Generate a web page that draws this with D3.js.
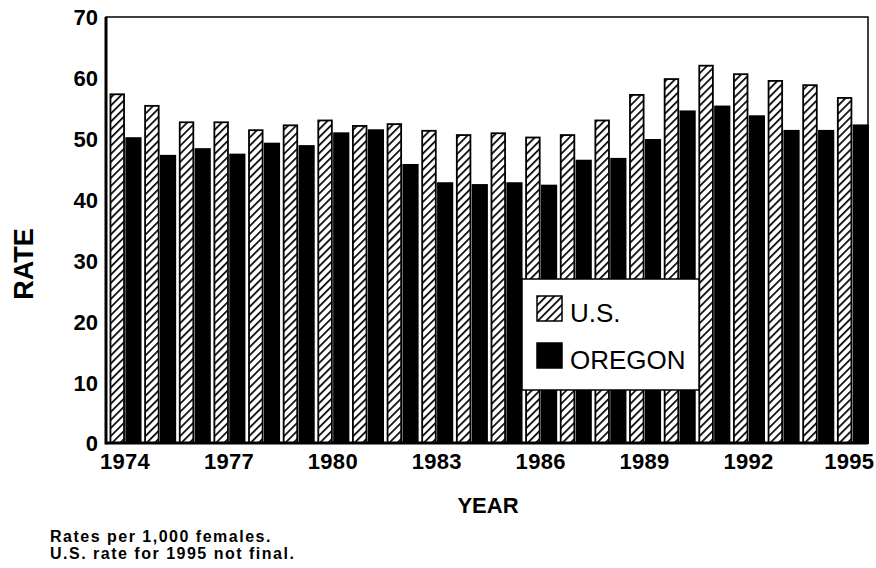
<!DOCTYPE html>
<html>
<head>
<meta charset="utf-8">
<script src="https://cdn.jsdelivr.net/npm/d3@7"></script>
<style>
  body { margin: 0; background: #fff; }
  text { font-family: "Liberation Sans", Arial, sans-serif; fill: #000; }
</style>
</head>
<body>
<div id="chart"></div>
<script>
var years = [1974,1975,1976,1977,1978,1979,1980,1981,1982,1983,1984,1985,1986,1987,1988,1989,1990,1991,1992,1993,1994,1995];
var usRate = [57.3,55.4,52.7,52.7,51.4,52.2,53.0,52.1,52.4,51.3,50.6,50.9,50.2,50.6,53.0,57.2,59.8,62.0,60.6,59.5,58.8,56.7];
var oregonRate = [50.1,47.2,48.3,47.4,49.2,48.8,50.9,51.4,45.7,42.7,42.4,42.7,42.3,46.4,46.7,49.8,54.5,55.3,53.7,51.3,51.3,52.2];
var yTicks = [0,10,20,30,40,50,60,70];
var xTickYears = [1974,1977,1980,1983,1986,1989,1992,1995];
var seriesNames = ["U.S.", "OREGON"];
var notes = ["Rates per 1,000 females.", "U.S. rate for 1995 not final."];

var margin = {top: 17, right: 8, bottom: 125, left: 106},
    width = 876 - margin.left - margin.right,
    height = 568 - margin.top - margin.bottom;

var svg = d3.select("#chart").append("svg")
    .attr("width", 876)
    .attr("height", 568);

var defs = svg.append("defs");
var pat = defs.append("pattern")
    .attr("id", "hatch")
    .attr("patternUnits", "userSpaceOnUse")
    .attr("width", 5.7)
    .attr("height", 5.7)
    .attr("patternTransform", "rotate(45)");
pat.append("rect").attr("width", 5.7).attr("height", 5.7).attr("fill", "white");
pat.append("line")
    .attr("x1", 0).attr("y1", 0).attr("x2", 0).attr("y2", 5.7)
    .attr("stroke", "black").attr("stroke-width", 3.4);

var g = svg.append("g")
    .attr("transform", "translate(" + margin.left + "," + margin.top + ")");

var x0 = d3.scaleBand().domain(years).range([0, width])
    .paddingInner(0.1).paddingOuter(0.05).align(1);
var x1 = d3.scaleBand().domain([0, 1]).range([0, x0.bandwidth()]);
var y = d3.scaleLinear().domain([0, 70]).range([height, 0]);

var data = years.map(function(yr, i) {
  return {year: yr, values: [usRate[i], oregonRate[i]]};
});

var groups = g.selectAll(".grp")
    .data(data)
    .enter().append("g")
    .attr("transform", function(d) { return "translate(" + x0(d.year) + ",0)"; });

groups.selectAll("rect")
    .data(function(d) { return d.values.map(function(v, k) { return {k: k, v: v}; }); })
    .enter().append("rect")
    .attr("x", function(d) { return x1(d.k) + (d.k == 0 ? 1 : 1.2); })
    .attr("y", function(d) { return y(d.v); })
    .attr("width", function(d) { return x1.bandwidth() - (d.k == 0 ? 2 : 1.2); })
    .attr("height", function(d) { return height - y(d.v); })
    .attr("fill", function(d) { return d.k == 0 ? "url(#hatch)" : "black"; })
    .attr("stroke", "black")
    .attr("stroke-width", 1.8);

// frame
g.append("rect")
    .attr("x", 0).attr("y", 0)
    .attr("width", width).attr("height", height)
    .attr("fill", "none")
    .attr("stroke", "black")
    .attr("stroke-width", 1.5);
g.append("line")
    .attr("x1", 0).attr("x2", 0).attr("y1", 0).attr("y2", height + 1.5)
    .attr("stroke", "black").attr("stroke-width", 3);
g.append("line")
    .attr("x1", 0).attr("x2", width).attr("y1", height).attr("y2", height)
    .attr("stroke", "black").attr("stroke-width", 3);

// y axis labels
var yAxis = d3.axisLeft(y).tickValues(yTicks).tickSize(0).tickPadding(8);
var ya = g.append("g").call(yAxis);
ya.select(".domain").remove();
ya.selectAll("text")
    .style("font-family", "Liberation Sans, Arial, sans-serif")
    .style("font-size", "22px")
    .style("font-weight", "bold")
    .attr("dy", "0.36em");

// x axis labels
var xAxis = d3.axisBottom(x0).tickValues(xTickYears).tickSize(0).tickPadding(10);
var xa = g.append("g")
    .attr("transform", "translate(0," + height + ")")
    .call(xAxis);
xa.select(".domain").remove();
xa.selectAll("text")
    .style("font-family", "Liberation Sans, Arial, sans-serif")
    .style("font-size", "22px")
    .style("font-weight", "bold")
    .style("letter-spacing", "0.3px");
// last label would run past the right edge
xa.selectAll("text").filter(function(d) { return d == 1995; })
    .attr("text-anchor", "end")
    .attr("x", 22);

// axis titles
svg.append("text")
    .attr("transform", "translate(33,264) rotate(-90)")
    .attr("text-anchor", "middle")
    .style("font-size", "27px")
    .style("font-weight", "bold")
    .text("RATE");

svg.append("text")
    .attr("x", 488)
    .attr("y", 513)
    .attr("text-anchor", "middle")
    .style("font-size", "22px")
    .style("font-weight", "bold")
    .text("YEAR");

// legend
var legend = svg.append("g").attr("transform", "translate(522,279)");
legend.append("rect")
    .attr("width", 177).attr("height", 111)
    .attr("fill", "white")
    .attr("stroke", "black").attr("stroke-width", 1.5);
seriesNames.forEach(function(name, k) {
  legend.append("rect")
      .attr("x", 15).attr("y", 17 + k * 47)
      .attr("width", 25).attr("height", 25)
      .attr("fill", k == 0 ? "url(#hatch)" : "black")
      .attr("stroke", "black").attr("stroke-width", 1.5);
  legend.append("text")
      .attr("x", 48).attr("y", 43 + k * 47)
      .style("font-size", "26px")
      .text(name);
});

// footnotes
svg.selectAll(".note")
    .data(notes)
    .enter().append("text")
    .attr("class", "note")
    .attr("x", 50)
    .attr("y", function(d, i) { return 542 + i * 16.5; })
    .style("font-size", "16px")
    .style("font-weight", "bold")
    .style("letter-spacing", "1.5px")
    .text(function(d) { return d; });
</script>
</body>
</html>
